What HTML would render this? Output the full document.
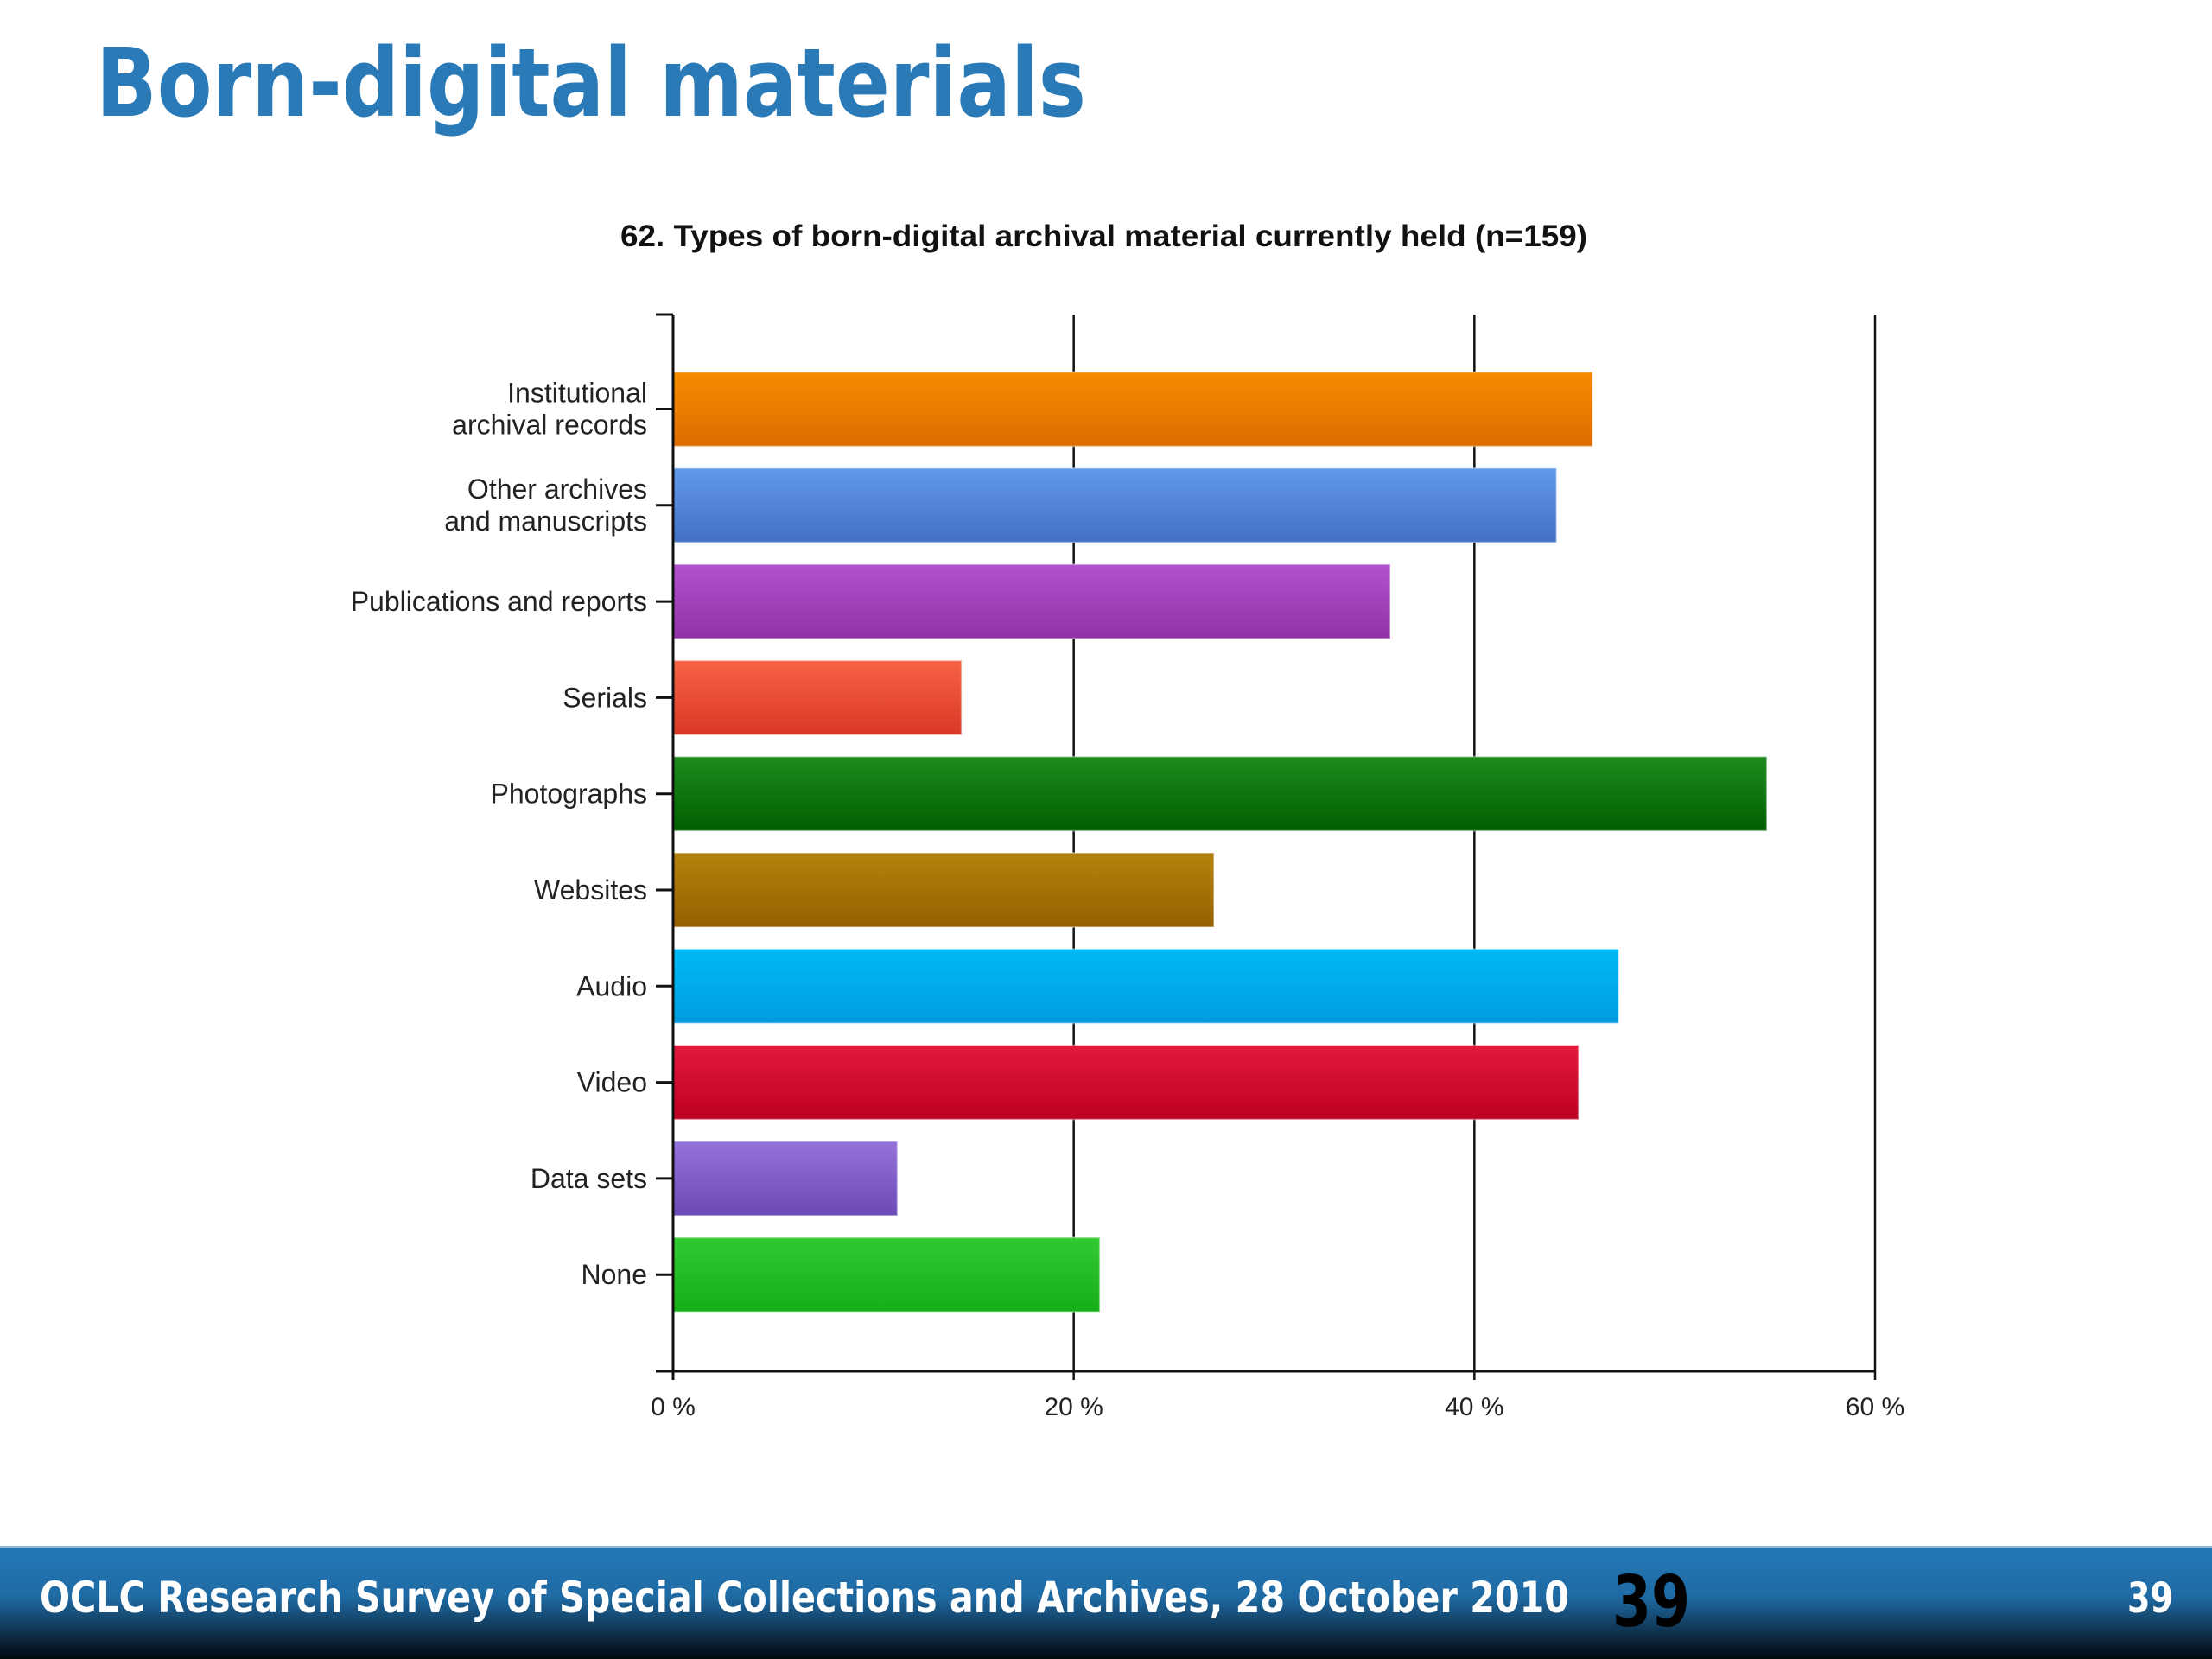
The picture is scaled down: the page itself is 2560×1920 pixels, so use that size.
<!DOCTYPE html>
<html><head><meta charset="utf-8"><style>
html,body{margin:0;padding:0;background:#fff;}
svg{display:block;}
</style></head><body>
<svg id="slide" width="2560" height="1920" viewBox="0 0 2560 1920" xmlns="http://www.w3.org/2000/svg">
<defs>
<linearGradient id="foot" x1="0" y1="0" x2="0" y2="1">
<stop offset="0" stop-color="#2479b8"/><stop offset="0.45" stop-color="#1f6aa3"/><stop offset="1" stop-color="#02080e"/>
</linearGradient>
</defs>
<text x="111" y="134" font-family="'DejaVu Sans', sans-serif" font-weight="bold" font-size="110" fill="#2a7ab8" textLength="1146" lengthAdjust="spacingAndGlyphs">Born-digital materials</text>
<text x="718" y="285" font-family="'Liberation Sans', sans-serif" font-weight="bold" font-size="35" fill="#111" textLength="1119" lengthAdjust="spacingAndGlyphs">62. Types of born-digital archival material currently held (n=159)</text>
<g id="chart"></g>
<rect x="0" y="1789" width="2560" height="131" fill="url(#foot)"/>
<rect x="0" y="1789" width="2560" height="3" fill="#8fb8dc"/>
<text x="46" y="1866" font-family="'DejaVu Sans Condensed','DejaVu Sans', sans-serif" font-weight="bold" font-size="50" fill="#fff" textLength="1770" lengthAdjust="spacingAndGlyphs">OCLC Research Survey of Special Collections and Archives, 28 October 2010</text>
<text x="1866" y="1882" font-family="'DejaVu Sans Condensed','DejaVu Sans', sans-serif" font-weight="bold" font-size="82" fill="#000" textLength="90" lengthAdjust="spacingAndGlyphs">39</text>
<text x="2462" y="1866" font-family="'DejaVu Sans Condensed','DejaVu Sans', sans-serif" font-weight="bold" font-size="48" fill="#fff" textLength="53" lengthAdjust="spacingAndGlyphs">39</text>
</svg>
<script>
const categories = [["Institutional","archival records"],["Other archives","and manuscripts"],["Publications and reports"],["Serials"],["Photographs"],["Websites"],["Audio"],["Video"],["Data sets"],["None"]];
const values = [45.9, 44.1, 35.8, 14.4, 54.6, 27.0, 47.2, 45.2, 11.2, 21.3];
const tickValues = [0, 20, 40, 60];
const tickLabels = ["0 %", "20 %", "40 %", "60 %"];
const colorsTop = ["#f58c00","#6298e8","#b252ce","#f66244","#1e8a1e","#b3830c","#00baf6","#e21a3c","#9472da","#32ca32"];
const colorsBot = ["#de6c00","#4270c6","#9232a6","#da3826","#006000","#946000","#009cde","#be0022","#6c4ab6","#16ae16"];

const NS = "http://www.w3.org/2000/svg";
const g = document.getElementById('chart');
const defs = document.querySelector('defs');
const x0 = 779, x1 = 2170, yTop = 364, yBot = 1587;
const xMax = 60;
function xs(v){ return x0 + (v / xMax) * (x1 - x0); }
function yc(i){ return 473.5 + i * 111.3; }
function mk(tag, attrs){ const e = document.createElementNS(NS, tag); for (const k in attrs) e.setAttribute(k, attrs[k]); g.appendChild(e); return e; }

tickValues.forEach((v, i) => {
  if (v === 0) return;
  const l = mk('line', {x1: xs(v), x2: xs(v), y1: yTop, y2: yBot + 10, stroke: '#111', 'stroke-width': 2.5});
  
  
});
values.forEach((v, i) => {
  const gr = document.createElementNS(NS, 'linearGradient');
  gr.setAttribute('id', 'bg' + i); gr.setAttribute('x1', 0); gr.setAttribute('y1', 0); gr.setAttribute('x2', 0); gr.setAttribute('y2', 1);
  gr.innerHTML = '<stop offset="0" stop-color="' + colorsTop[i] + '"/><stop offset="1" stop-color="' + colorsBot[i] + '"/>';
  defs.appendChild(gr);
  const r = mk('rect', {x: xs(0), y: yc(i) - 43, width: xs(v) - xs(0), height: 86, fill: 'url(#bg' + i + ')', stroke: 'rgba(255,255,255,0.35)', 'stroke-width': 2});
  
  
});
const ya = mk('line', {x1: x0, x2: x0, y1: yTop, y2: yBot + 10, stroke: '#111', 'stroke-width': 3});


const xa = mk('line', {x1: 759, x2: x1, y1: yBot, y2: yBot, stroke: '#111', 'stroke-width': 3});


const tt = mk('line', {x1: 759, x2: x0, y1: yTop, y2: yTop, stroke: '#111', 'stroke-width': 3});


categories.forEach((c, i) => {
  const t = mk('line', {x1: 759, x2: x0, y1: yc(i), y2: yc(i), stroke: '#111', 'stroke-width': 3});
  
  
  const tx = mk('text', {x: 749, 'text-anchor': 'end', 'font-family': "'Liberation Sans', sans-serif", 'font-size': 32, fill: '#222'});
  
  
  if (c.length === 1) {
    tx.setAttribute('y', yc(i) + 11);
    tx.textContent = c[0];
  } else {
    c.forEach((line, j) => {
      const ts = document.createElementNS(NS, 'tspan');
      ts.setAttribute('x', 749);
      ts.setAttribute('y', yc(i) - 8 + j * 37);
      ts.textContent = line;
      tx.appendChild(ts);
    });
  }
});
tickValues.forEach((v, i) => {
  const t = mk('text', {x: xs(v), y: 1638, 'text-anchor': 'middle', 'font-family': "'Liberation Sans', sans-serif", 'font-size': 30, fill: '#222'});
  t.textContent = tickLabels[i];
  
  
});
</script>
</body></html>
